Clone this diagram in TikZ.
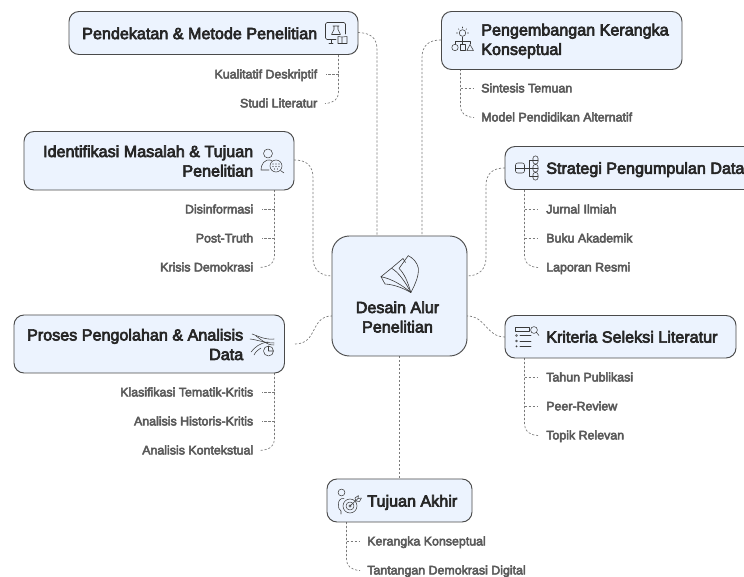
\documentclass[tikz,border=0pt]{standalone}
\usepackage{fontspec}
\setmainfont[FakeBold=4]{Liberation Sans}
\definecolor{boxfill}{HTML}{ECF3FE}
\definecolor{boxline}{HTML}{4A4A4A}
\definecolor{linkc}{HTML}{7A7A7A}
\definecolor{titlec}{HTML}{262626}
\definecolor{leafc}{HTML}{5A5A5A}
\definecolor{iconc}{HTML}{3A3A3A}
\tikzset{
  mainbox/.style={draw=boxline,fill=boxfill,line width=0.7pt,rounded corners=7.5pt,inner sep=0pt},
  bigbox/.style={mainbox,rounded corners=13pt},
  title/.style={font=\fontsize{12.1}{14.6}\selectfont,text=titlec,inner sep=0pt},
  oneline/.style={title,text height=8.7pt,text depth=0pt},
  leaf/.style={font=\fontsize{9.3}{10}\selectfont,text=leafc,inner sep=0pt,text height=6.7pt,text depth=0pt},
  link/.style={draw=linkc,line width=0.5pt,dash pattern=on 1.6pt off 1.4pt},
  icon/.style={draw=iconc,line width=0.4pt,line join=round,line cap=round},
}
\newcommand{\boxat}[6][mainbox]{%
  \pgfmathsetmacro{\bw}{(#5-#3)*0.75}\pgfmathsetmacro{\bh}{(#6-#4)*0.75}%
  \node[#1,minimum width=\bw pt,minimum height=\bh pt] (#2) at ({(#3+#5)/2},{(#4+#6)/2}) {};}
\begin{document}
\begin{tikzpicture}[x=0.75pt,y=-0.75pt]
\useasboundingbox (0,0) rectangle (744,577);
\clip (0,0) rectangle (744,577);
\fill[white] (0,0) rectangle (744,577);

% connector end points on the central box
\coordinate (cN1) at (377,236);
\coordinate (cN2) at (422,236);
\coordinate (cW1) at (332,276);
\coordinate (cW2) at (332,316);
\coordinate (cE1) at (467,276);
\coordinate (cE2) at (467,316);
\coordinate (pendS) at (338.5,55);
\coordinate (idenS) at (274.5,190);
\coordinate (prosS) at (274.5,373);
\coordinate (kembS) at (460.5,69);
\coordinate (stratS) at (524.5,190);
\coordinate (kritS) at (524.5,358);
\coordinate (tujS) at (346.5,522);
\coordinate (prosE) at (295,344);

% main links
\draw[link] (358,32.5) .. controls (370,33) and (377,37) .. (377,50) -- (cN1);
\draw[link] (441,40) .. controls (429,40) and (422,45) .. (422,58) -- (cN2);
\draw[link] (294,160) .. controls (306,160) and (313,165) .. (313,178) -- (313,258) .. controls (313,269) and (320,276) .. (cW1);
\draw[link] (505,168) .. controls (493,168) and (486,173) .. (486,186) -- (486,258) .. controls (486,269) and (479,276) .. (cE1);
\draw[link] (prosE) .. controls (318,344) and (310,316) .. (cW2);
\draw[link] (505,337) .. controls (486,337) and (486,316) .. (cE2);
\draw[link] (399.5,356) -- (399.5,479);

% leaves
\draw[link] (pendS) -- (338.5,92) .. controls (338.5,99) and (334,103) .. (325,103.5);
\draw[link] (338.5,74.5) -- (326,74.5);
\draw[link] (idenS) -- (274.5,256) .. controls (274.5,263) and (270,267) .. (259,267.5);
\draw[link] (274.5,209.5) -- (262,209.5);
\draw[link] (274.5,238.5) -- (262,238.5);
\draw[link] (prosS) -- (274.5,439) .. controls (274.5,446) and (270,450) .. (259,450.5);
\draw[link] (274.5,392.5) -- (262,392.5);
\draw[link] (274.5,421.5) -- (262,421.5);
\draw[link] (kembS) -- (460.5,106) .. controls (460.5,113) and (465,117) .. (474,117.5);
\draw[link] (460.5,88.5) -- (473,88.5);
\draw[link] (stratS) -- (524.5,256) .. controls (524.5,263) and (529,267) .. (538,267.5);
\draw[link] (524.5,209.5) -- (537,209.5);
\draw[link] (524.5,238.5) -- (537,238.5);
\draw[link] (kritS) -- (524.5,424) .. controls (524.5,431) and (529,435) .. (538,435.5);
\draw[link] (524.5,377.5) -- (537,377.5);
\draw[link] (524.5,406.5) -- (537,406.5);
\draw[link] (tujS) -- (346.5,559) .. controls (346.5,566) and (351,570) .. (360,570.5);
\draw[link] (346.5,541.5) -- (359,541.5);

% boxes
\boxat{pend}{69}{11.5}{358}{54.5}
\boxat{iden}{24}{131.5}{294}{190}
\boxat{pros}{14}{315}{284.5}{373}
\boxat{kemb}{441.5}{11.5}{682}{69.5}
\boxat{strat}{505}{146.5}{760}{189.5}
\boxat{krit}{505}{315.5}{736}{358}
\boxat[bigbox]{cent}{332}{236}{467}{356}
\boxat{tuj}{327}{479}{472}{522}

% titles
\node[oneline,anchor=east] (pendT) at (317.5,33.3) {Pendekatan \& Metode Penelitian};
\node[title,anchor=east,align=right] (idenT) at (253.5,161) {Identifikasi Masalah \& Tujuan\\Penelitian};
\node[title,anchor=east,align=right] (prosT) at (243.5,344.5) {Proses Pengolahan \& Analisis\\Data};
\node[title,anchor=west,align=left] (kembT) at (481,41) {Pengembangan Kerangka\\Konseptual};
\node[oneline,anchor=west] (stratT) at (546,168) {Strategi Pengumpulan Data};
\node[oneline,anchor=west] (kritT) at (546,336.8) {Kriteria Seleksi Literatur};
\node[title,align=center] (centT) at (397.5,317) {Desain Alur\\Penelitian};
\node[oneline,anchor=west] (tujT) at (367,500.8) {Tujuan Akhir};

% leaf labels
\node[leaf,anchor=east] (l1) at (317.5,74) {Kualitatif Deskriptif};
\node[leaf,anchor=east] (l2) at (317.5,103) {Studi Literatur};
\node[leaf,anchor=east] (l3) at (253.5,209) {Disinformasi};
\node[leaf,anchor=east] (l4) at (253.5,238) {Post-Truth};
\node[leaf,anchor=east] (l5) at (253.5,267) {Krisis Demokrasi};
\node[leaf,anchor=east] (l6) at (253.5,392) {Klasifikasi Tematik-Kritis};
\node[leaf,anchor=east] (l7) at (253.5,421) {Analisis Historis-Kritis};
\node[leaf,anchor=east] (l8) at (253.5,450) {Analisis Kontekstual};
\node[leaf,anchor=west] (l9) at (481,88) {Sintesis Temuan};
\node[leaf,anchor=west] (l10) at (481,117) {Model Pendidikan Alternatif};
\node[leaf,anchor=west] (l11) at (546,209) {Jurnal Ilmiah};
\node[leaf,anchor=west] (l12) at (546,238) {Buku Akademik};
\node[leaf,anchor=west] (l13) at (546,267) {Laporan Resmi};
\node[leaf,anchor=west] (l14) at (546,377) {Tahun Publikasi};
\node[leaf,anchor=west] (l15) at (546,406) {Peer-Review};
\node[leaf,anchor=west] (l16) at (546,435) {Topik Relevan};
\node[leaf,anchor=west] (l17) at (367,541) {Kerangka Konseptual};
\node[leaf,anchor=west] (l18) at (367,570) {Tantangan Demokrasi Digital};

% icon: monitor, flask, book
\draw[icon] (336,39.5) -- (327,39.5) -- (325.5,38) -- (325.5,24) -- (327,22.5) -- (344,22.5) -- (345.5,24) -- (345.5,34);
\draw[icon] (333,26) -- (339,26) (334,26) -- (334,29.5) -- (331.5,34.5) -- (340.5,34.5) -- (338,29.5) -- (338,26);
\draw[icon] (331,40) -- (331,43.5) (329,43.5) -- (333,43.5);
\draw[icon] (342,37) -- (338,36.5) -- (338,43.5) -- (342,43.5) -- (347,43.5) -- (347,36.5) -- cycle (342,37) -- (342,43.5);

% icon: person and magnifier
\draw[icon] (268,153.5) circle (4.5);
\draw[icon] (272,160.5) .. controls (264,158) and (261,165) .. (261,170) -- (269,170);
\draw[icon] (276,166) circle (6);
\draw[icon] (280.5,170.5) -- (284,173);
\foreach \dx/\dy in {-3/-2,0/-2,3/-2,-3/0.5,0/0.5,3/0.5,-1.5/3,1.5/3}
  \fill[iconc] (276+\dx,166+\dy) circle (0.7);

% icon: flowing lines and pie
\draw[icon] (252,334) .. controls (258,336) and (265,340) .. (274,339);
\draw[icon] (250,339) .. controls (258,340) and (265,343) .. (274,343);
\draw[icon] (256,336) .. controls (262,340) and (266,345) .. (274,345);
\draw[icon] (251,352) .. controls (255,347) and (260,343) .. (268,342);
\draw[icon] (254,355) .. controls (256,351) and (258,350) .. (261,348);
\draw[icon] (268.5,351) circle (5) (268.5,351) -- (268.5,346) (268.5,351) -- (273.5,351);

% icon: bulb, tree, shapes
\draw[icon] (462.5,33) circle (3.3);
\draw[icon] (462.5,28) -- (462.5,27) (457.5,33) -- (456.5,33) (467.5,33) -- (468.5,33) (459,29.5) -- (458.2,28.7) (466,29.5) -- (466.8,28.7);
\draw[icon] (462.5,37) -- (462.5,44) (455,44) -- (455,41.5) -- (470,41.5) -- (470,44);
\draw[icon] (455,47.5) circle (3.2);
\draw[icon] (459.8,44.2) rectangle (465.5,50.6);
\draw[icon] (470,44.5) -- (473.5,50.6) -- (466.8,50.6) -- cycle;

% icon: databases
\foreach \xa/\ya/\xb/\yb in {515.5/163/524.5/173,533/156/538/164,533/164.5/538/172,533/172.5/538/180}{
  \draw[icon,rounded corners=1.6pt] (\xa,\ya) rectangle (\xb,\yb);
  \draw[icon] (\xa,{(\ya+\yb)/2}) -- (\xb,{(\ya+\yb)/2});
}
\draw[icon] (525,168) -- (529,168) (533,160) -- (529,160) -- (529,176) -- (533,176) (529,168) -- (533,168);

% icon: list and search
\draw[icon] (515.5,327.5) rectangle (529,331);
\draw[icon] (534,330) circle (3.4) (536.6,332.6) -- (539,335.5);
\draw[icon] (520,335.5) -- (531,335.5) (520,341) -- (531,341) (520,346.5) -- (531,346.5);
\draw[icon] (516.5,335.5) circle (0.9) (516.5,341) circle (0.9);
\fill[iconc] (516.5,346.5) circle (1);

% icon: person and target
\draw[icon] (341.5,492.5) circle (3.4);
\draw[icon] (344,498.5) .. controls (340,498) and (338,501) .. (338.5,505) .. controls (338,507) and (339,510) .. (341,511) -- (341,514);
\draw[icon] (350,506) circle (7);
\draw[icon] (350,506) circle (4);
\draw[icon] (350,506) circle (1.3);
\draw[icon] (350,506) -- (358,498.5) (355,498) -- (356,501) -- (359.5,501.5) (358,498.5) -- (358.5,495.5) -- (355,498);
\draw[icon] (358,498.5) -- (361.5,498) -- (359.5,501.5);

% icon: open book pages
\draw[icon,line width=0.45pt] (410.8,292.5) .. controls (416,283) and (419,275) .. (418.3,268) .. controls (417,262) and (413,258) .. (408.2,255.7);
\draw[icon,line width=0.45pt] (408.2,255.7) -- (399,268.5) .. controls (404,273) and (408,282) .. (410.8,292.5);
\draw[icon,line width=0.45pt] (403,258.5) -- (391.5,268.2) .. controls (398,272) and (405,281) .. (410.8,292.5);
\draw[icon,line width=0.45pt] (391.5,268.2) -- (381,276.7) .. controls (392,279) and (402,285) .. (410.8,292.5);
\draw[icon,line width=0.45pt] (381,276.7) -- (385,284) .. controls (394,284.5) and (403,288) .. (410.8,292.5);
\draw[icon,line width=0.45pt] (403,258.5) -- (405.5,262.5);
\end{tikzpicture}
\end{document}
